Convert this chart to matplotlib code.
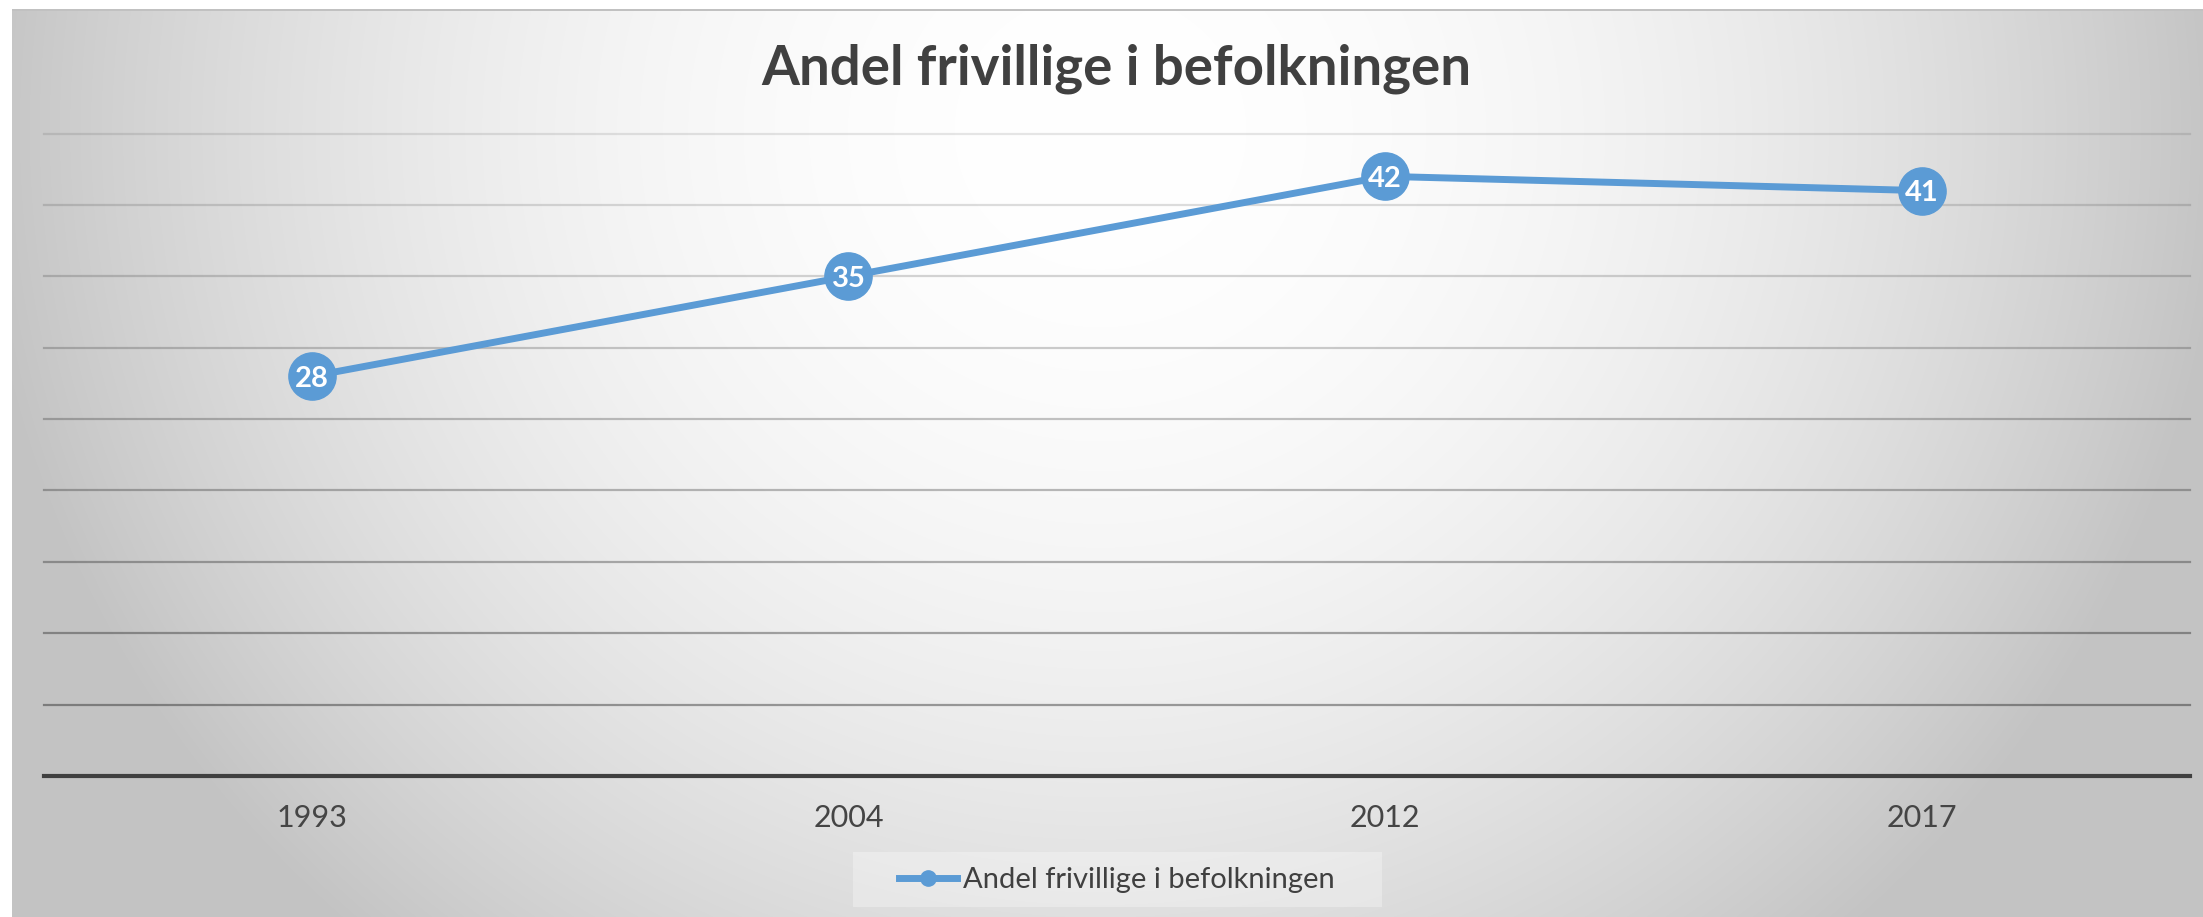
import numpy as np
import matplotlib
matplotlib.use("Agg")
import matplotlib.pyplot as plt
from matplotlib.patches import Rectangle

# ---- data ----
years = ["1993", "2004", "2012", "2017"]
values = [28, 35, 42, 41]
series_name = "Andel frivillige i befolkningen"
title = "Andel frivillige i befolkningen"
y_ticks = [0, 5, 10, 15, 20, 25, 30, 35, 40, 45]

W, H = 2203, 917
DPI = 100
plt.rcParams['font.family'] = ['Lato', 'DejaVu Sans']

fig = plt.figure(figsize=(W / DPI, H / DPI), dpi=DPI)
fig.patch.set_facecolor('white')

# ---- radial gradient background ----
yy, xx = np.mgrid[0:H, 0:W]
cx, cy, rx, ry = 1100.0, 130.0, 1100.0, 1050.0
r2 = ((xx - cx) / rx) ** 2 + ((yy - cy) / ry) ** 2
g = (255 - 57 * np.minimum(r2, 1.05)) / 255.0
g[:9, :] = 1.0
g[:, :12] = 1.0
g[9:11, 12:] = np.minimum(g[9:11, 12:], 0.76)
img = np.dstack([g, g, g])
fig.figimage(img, xo=0, yo=0, origin='upper', zorder=-5)

# ---- axes ----
left, right = 43.5 / W, 2190 / W
bottom, top = 1 - 776 / H, 1 - 133.5 / H
ax = fig.add_axes([left, bottom, right - left, top - bottom])
ax.set_zorder(3)
ax.patch.set_visible(False)
x = np.arange(len(years))
ax.set_xlim(-0.5, len(years) - 0.5)
ax.set_ylim(y_ticks[0], y_ticks[-1])

# gridlines (slightly darker towards the bottom)
for t in y_ticks[1:]:
    a = 0.36 - 0.26 * (t - y_ticks[1]) / (y_ticks[-1] - y_ticks[1])
    ax.axhline(t, color='black', alpha=a, lw=1.6, zorder=1, clip_on=False)

for s in ['left', 'right', 'top']:
    ax.spines[s].set_visible(False)
ax.spines['bottom'].set_color('#404040')
ax.spines['bottom'].set_linewidth(3.0)
ax.spines['bottom'].set_zorder(2)

ax.set_yticks([])
ax.set_xticks(x)
ax.set_xticklabels(years, fontsize=22, color='#454545')
ax.tick_params(axis='x', length=0, pad=20)

line, = ax.plot(x, values, color='#5B9BD5', lw=5.0, marker='o', markersize=34,
                markerfacecolor='#5B9BD5', markeredgecolor='#5B9BD5',
                zorder=3, clip_on=False, label=series_name)
for xi, v in zip(x, values):
    ax.text(xi, v, str(v), ha='center', va='center_baseline', color='white',
            fontsize=21, fontweight='bold', zorder=4)

# ---- title ----
fig.text(1116 / W, 1 - 85 / H, title, ha='center', va='baseline',
         fontsize=39.3, fontweight='bold', color='#404040')

# ---- legend ----
fig.patches.append(Rectangle((853 / W, 1 - 907 / H), (1382 - 853) / W, (907 - 852) / H,
                             transform=fig.transFigure, facecolor='white', alpha=0.3,
                             edgecolor='none', zorder=1))
leg = fig.legend(handles=[line], loc='center', bbox_to_anchor=(1117 / W, 1 - 880 / H),
                 frameon=False, fontsize=21, handlelength=2.0, handletextpad=0.2,
                 labelcolor='#404040')
leg.legend_handles[0].set_markersize(11)

fig.savefig('out.png', dpi=DPI)
